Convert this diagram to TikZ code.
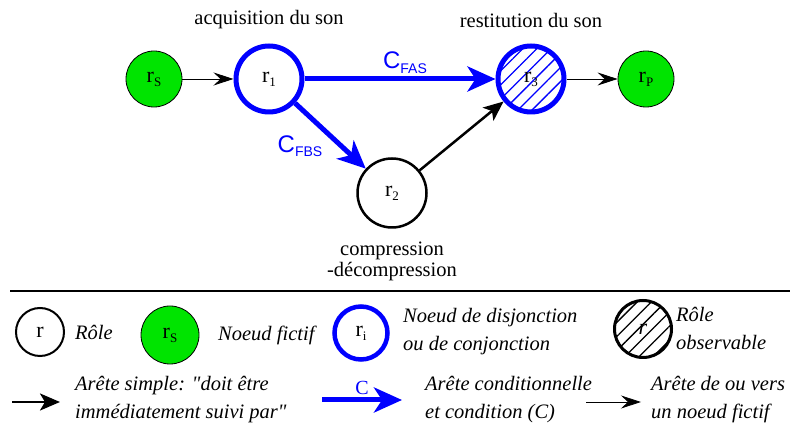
\documentclass[tikz,border=0pt]{standalone}
\usepackage{fontspec}
\setmainfont{Liberation Serif}
\newfontfamily\helvfont{Liberation Sans}
\usetikzlibrary{arrows.meta, positioning, patterns.meta}
\definecolor{fictgreen}{RGB}{0,228,0}
\definecolor{condblue}{RGB}{0,0,255}
\newcommand{\rolefont}{\fontsize{22}{26}\selectfont}
\newcommand{\txtfont}{\fontsize{20.5}{28}\selectfont}
\newcommand{\idx}[1]{\raisebox{-0.4ex}{\fontsize{13}{13}\selectfont #1}}
\newcommand{\cond}[1]{{\helvfont\fontsize{24}{24}\selectfont C\raisebox{-0.35ex}{\fontsize{14}{14}\selectfont #1}}}
\tikzset{
    role/.style={circle, draw=black, line width=2.5pt, minimum size=#1, inner sep=0pt, font=\rolefont},
    role/.default=69pt,
    fictif/.style={circle, draw=black, fill=fictgreen, line width=0.8pt, minimum size=#1, inner sep=0pt, font=\rolefont},
    fictif/.default=56pt,
    jonction/.style={circle, draw=condblue, line width=5pt, minimum size=#1, inner sep=0pt, font=\rolefont},
    jonction/.default=66pt,
    observable/.style={preaction={pattern={Lines[angle=45, distance=10pt, line width=1.3pt]}, pattern color=#1}},
    etiquette/.style={font=\fontsize{20.5}{21}\selectfont, align=center},
    legende/.style={font=\txtfont\itshape, align=left, anchor=west, inner sep=0pt},
    fleche/.style={-{Stealth[length=20pt, width=13pt, inset=7pt]}, line width=0.8pt},
    simple/.style={-{Stealth[length=20pt, width=17pt, inset=5pt]}, line width=2.5pt},
    conditionnelle/.style={-{Stealth[length=28pt, width=25pt, inset=8pt]}, line width=5pt, draw=condblue},
    condlabel/.style={text=condblue, inner sep=3pt}
}

\begin{document}
\begin{tikzpicture}[x=1pt, y=1pt]
\useasboundingbox (0,0) rectangle (797,430);

% graphe
\node[fictif] (rs) at (154,351) {r\idx{S}};
\node[jonction] (r1) at (269,351) {r\idx{1}};
\node[jonction, observable=condblue] (r3) at (531,351) {r\idx{3}};
\node[fictif] (rp) at (646,351) {r\idx{P}};
\node[role] (r2) at (392,237) {r\idx{2}};

\node[etiquette] (acq) at (269,410) {acquisition du son};
\node[etiquette] (rest) at (531,410) {restitution du son};
\node[etiquette] (comp) at (392,169) {compression\\-décompression};

\draw[fleche] (rs) -- (r1);
\draw[conditionnelle] (r1) -- node[condlabel, above, xshift=5pt] {\cond{FAS}} (r3);
\draw[conditionnelle] (r1) -- node[condlabel, left=14pt, pos=0.66] {\cond{FBS}} (r2);
\draw[simple] (r2) -- (r3);
\draw[fleche] (r3) -- (rp);

% separation
\coordinate (sepg) at (10,139);
\coordinate (sepd) at (790,139);
\draw[line width=1.5pt] (sepg) -- (sepd);

% legende
\node[role=48pt, line width=2pt] (lrole) at (40,98) {r};
\node[legende] (trole) at (75,98) {Rôle};
\node[fictif=58pt] (lfict) at (170,95) {r\idx{S}};
\node[legende] (tfict) at (218,95) {Noeud fictif};
\node[jonction=53pt, line width=4.5pt] (ljonc) at (361,97) {r\idx{i}};
\node[legende] (tjonc) at (403,98) {Noeud de disjonction\\ou de conjonction};
\node[role=57pt, line width=3pt, observable=black] (lobs) at (643,101) {\itshape r};
\node[legende] (tobs) at (676,102) {Rôle\\observable};

\coordinate (as1) at (12,28);
\coordinate (as2) at (60,28);
\draw[simple] (as1) -- (as2);
\node[legende] (tsimple) at (75,30) {Arête simple: \textquotedbl doit être\\immédiatement suivi par\textquotedbl};

\coordinate (ac1) at (322,30);
\coordinate (ac2) at (402,30);
\draw[conditionnelle] (ac1) -- node[condlabel, above, font=\fontsize{20}{20}\selectfont] {C} (ac2);
\node[legende] (tcond) at (425,30) {Arête conditionnelle\\et condition (C)};

\coordinate (af1) at (586,28);
\coordinate (af2) at (641,28);
\draw[fleche] (af1) -- (af2);
\node[legende] (tfict2) at (651,30) {Arête de ou vers\\un noeud fictif};

\end{tikzpicture}
\end{document}
